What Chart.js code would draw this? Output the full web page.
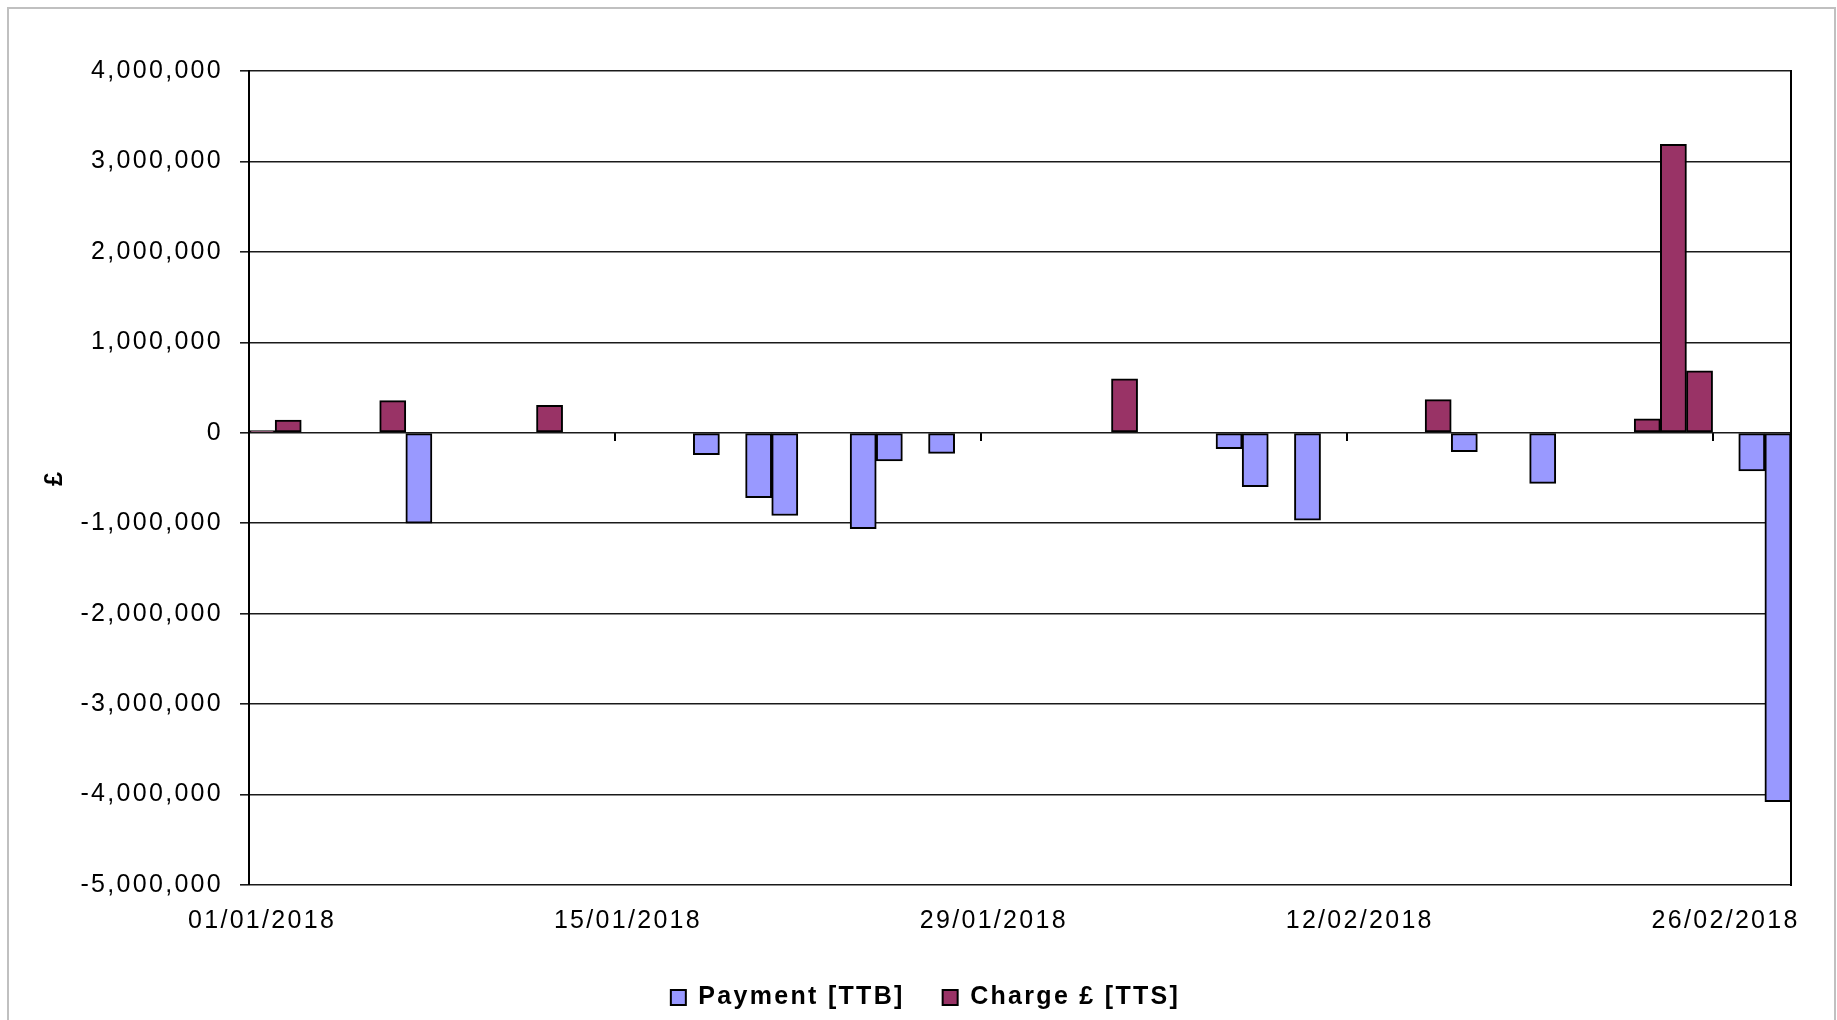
<!DOCTYPE html>
<html>
<head>
<meta charset="utf-8">
<script src="https://cdn.jsdelivr.net/npm/chart.js@4.4.1/dist/chart.umd.min.js"></script>
<style>
  body { margin: 0; background: #fff; }
  #wrap { position: relative; width: 1837px; height: 1020px; overflow: hidden; }
  #frame { position: absolute; left: 7px; top: 7px; width: 1825px; height: 1040px; border: 2px solid #c0c0c0; }
  canvas { position: absolute; left: 0; top: 0; }
</style>
</head>
<body>
<div id="wrap">
  <div id="frame"></div>
  <canvas id="myChart" width="1837" height="1020"></canvas>
</div>
<script>
const dates = [
  '01/01/2018', '02/01/2018', '03/01/2018', '04/01/2018', '05/01/2018', '06/01/2018', '07/01/2018',
  '08/01/2018', '09/01/2018', '10/01/2018', '11/01/2018', '12/01/2018', '13/01/2018', '14/01/2018',
  '15/01/2018', '16/01/2018', '17/01/2018', '18/01/2018', '19/01/2018', '20/01/2018', '21/01/2018',
  '22/01/2018', '23/01/2018', '24/01/2018', '25/01/2018', '26/01/2018', '27/01/2018', '28/01/2018',
  '29/01/2018', '30/01/2018', '31/01/2018', '01/02/2018', '02/02/2018', '03/02/2018', '04/02/2018',
  '05/02/2018', '06/02/2018', '07/02/2018', '08/02/2018', '09/02/2018', '10/02/2018', '11/02/2018',
  '12/02/2018', '13/02/2018', '14/02/2018', '15/02/2018', '16/02/2018', '17/02/2018', '18/02/2018',
  '19/02/2018', '20/02/2018', '21/02/2018', '22/02/2018', '23/02/2018', '24/02/2018', '25/02/2018',
  '26/02/2018', '27/02/2018', '28/02/2018'
];

const tickLabels = ['01/01/2018', '15/01/2018', '29/01/2018', '12/02/2018', '26/02/2018'];

// one value per day, null = nothing that day
const payment = [
  null, null, null, null, null, null, -1000000,
  null, null, null, null, null, null, null,
  null, null, null, -242000, null, -718000, -915000,
  null, null, -1060000, -311000, null, -227000, null,
  null, null, null, null, null, null, null,
  null, null, -176000, -597000, null, -967000, null,
  null, null, null, null, -209000, null, null,
  -560000, null, null, null, null, null, null,
  null, -421000, -4080000
];

const charge = [
  25000, 140000, null, null, null, 355000, null,
  null, null, null, null, 303000, null, null,
  null, null, null, null, null, null, null,
  null, null, null, null, null, null, null,
  null, null, null, null, null, 597000, null,
  null, null, null, null, null, null, null,
  null, null, null, 366000, null, null, null,
  null, null, null, null, 153000, 3190000, 684000,
  null, null, null
];

const fontFamily = '"Liberation Sans", Arial, sans-serif';
const axisFont = { family: fontFamily, size: 25 };

// the original picture has wide-set lettering
const spacing = {
    id: 'spacing',
    beforeUpdate: function (chart) { chart.ctx.letterSpacing = '2.3px'; },
    beforeDraw: function (chart) { chart.ctx.letterSpacing = '2.3px'; }
};

const ctx = document.getElementById('myChart').getContext('2d');
new Chart(ctx, {
    type: 'bar',
    plugins: [spacing],
    data: {
        labels: dates,
        datasets: [{
            label: 'Payment [TTB]',
            data: payment,
            backgroundColor: '#9999ff',
            borderColor: '#000',
            borderWidth: 2,
            borderSkipped: false
        }, {
            label: 'Charge £ [TTS]',
            data: charge,
            backgroundColor: '#993366',
            borderColor: '#000',
            borderWidth: 2,
            borderSkipped: false
        }]
    },
    options: {
        responsive: false,
        animation: false,
        grouped: false,
        barPercentage: 1,
        categoryPercentage: 1,
        layout: { padding: { left: 30, right: 16, top: 71, bottom: 0 } },
        plugins: {
            tooltip: { enabled: false },
            legend: {
                position: 'bottom',
                labels: {
                    color: '#000',
                    font: { family: fontFamily, size: 25, weight: 'bold' },
                    boxWidth: 15,
                    boxHeight: 15,
                    padding: 38
                }
            }
        },
        scales: {
            x: {
                type: 'category',
                position: 'bottom',
                grid: { display: false, drawTicks: false },
                border: { display: false },
                ticks: {
                    autoSkip: false,
                    maxRotation: 0,
                    padding: 21,
                    color: '#000',
                    font: axisFont,
                    callback: function (val, idx) {
                        const lbl = dates[idx];
                        return tickLabels.includes(lbl) ? lbl : '';
                    }
                },
                afterFit: function (scale) { scale.height = 62; }
            },
            x0: {
                type: 'category',
                position: { y: 0 },
                offset: true,
                ticks: { display: false },
                border: { display: false },
                grid: {
                    drawOnChartArea: false,
                    drawTicks: true,
                    tickLength: 8,
                    lineWidth: 2,
                    color: function (c) {
                        return (c.index !== undefined && c.index % 14 === 0) ? '#000' : 'rgba(0,0,0,0)';
                    }
                }
            },
            y: {
                min: -5000000,
                max: 4000000,
                position: 'left',
                border: { display: true, color: '#000', width: 2 },
                grid: { color: '#1a1a1a', lineWidth: 1.6, tickLength: 9 },
                ticks: {
                    stepSize: 1000000,
                    padding: 17,
                    color: '#000',
                    font: axisFont,
                    callback: function (v) { return v.toLocaleString('en-GB'); }
                },
                title: {
                    display: true,
                    text: '£',
                    color: '#000',
                    padding: 10,
                    font: { family: fontFamily, size: 25, weight: 'bold' }
                },
                afterFit: function (scale) { scale.width = 219; }
            },
            y2: {
                min: -5000000,
                max: 4000000,
                position: 'right',
                grid: { display: false, drawTicks: false },
                ticks: { display: false },
                border: { display: true, color: '#000', width: 2 },
                afterFit: function (scale) { scale.width = 30; }
            }
        }
    }
});
</script>
</body>
</html>
